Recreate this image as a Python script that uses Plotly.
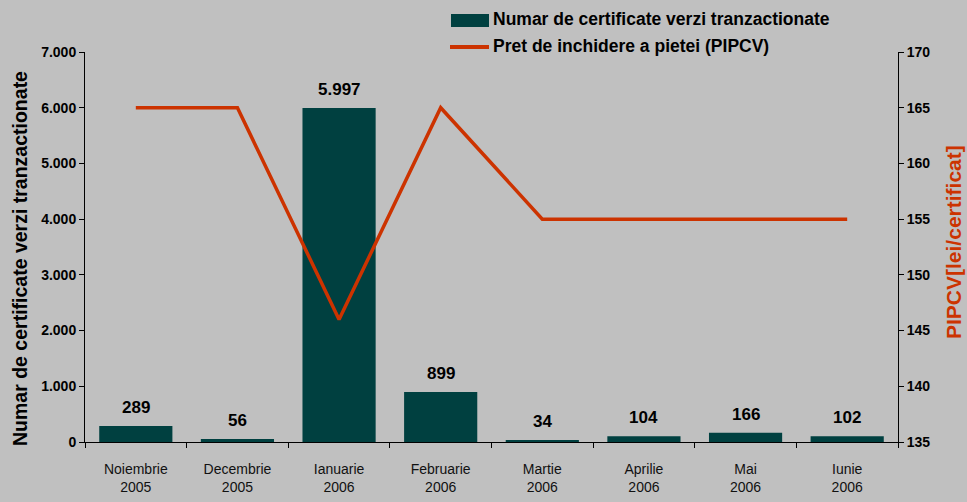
import plotly.graph_objects as go

categories = ["Noiembrie<br>2005", "Decembrie<br>2005", "Ianuarie<br>2006", "Februarie<br>2006",
              "Martie<br>2006", "Aprilie<br>2006", "Mai<br>2006", "Iunie<br>2006"]
certificates = [289, 56, 5997, 899, 34, 104, 166, 102]
price = [165, 165, 146, 165, 155, 155, 155, 155]

legend_bar = "Numar de certificate verzi tranzactionate"
legend_line = "Pret de inchidere a pietei (PIPCV)"
left_title = "Numar de certificate verzi tranzactionate"
right_title = "PIPCV[lei/certificat]"

BG = "#c0c0c0"
BAR = "#004040"
LINE = "#cc3300"
FONT = "Liberation Sans, Arial, sans-serif"

fig = go.Figure()
fig.add_trace(go.Bar(
    x=categories, y=certificates, name=legend_bar,
    marker=dict(color=BAR, line=dict(width=0)), yaxis="y", showlegend=False,
))
fig.add_trace(go.Scatter(
    x=categories, y=price, name=legend_line,
    mode="lines", line=dict(color=LINE, width=3.5), yaxis="y2", showlegend=False,
))

# value labels above bars
for c, v in zip(categories, certificates):
    fig.add_annotation(x=c, y=v, xref="x", yref="y", text="<b>%s</b>" % f"{v:,}".replace(",", "."),
                       showarrow=False, yanchor="bottom", yshift=7,
                       font=dict(family=FONT, size=17, color="#000"))

# custom legend
fig.add_shape(type="rect", xref="paper", yref="paper",
              x0=(451 - 85) / 813, x1=(489 - 85) / 813,
              y0=(442 - 27) / 390, y1=(442 - 14) / 390,
              fillcolor=BAR, line=dict(width=0))
fig.add_shape(type="line", xref="paper", yref="paper",
              x0=(450 - 85) / 813, x1=(489 - 85) / 813,
              y0=(442 - 47) / 390, y1=(442 - 47) / 390,
              line=dict(color=LINE, width=4))
fig.add_annotation(xref="paper", yref="paper", x=(491 - 85) / 813, y=(442 - 19) / 390,
                   xanchor="left", yanchor="middle", showarrow=False,
                   text="<b>%s</b>" % legend_bar,
                   font=dict(family=FONT, size=17.5, color="#000"))
fig.add_annotation(xref="paper", yref="paper", x=(491 - 85) / 813, y=(442 - 46) / 390,
                   xanchor="left", yanchor="middle", showarrow=False,
                   text="<b>%s</b>" % legend_line,
                   font=dict(family=FONT, size=17.5, color="#000"))

# axis titles
fig.add_annotation(xref="paper", yref="paper", x=(20 - 85) / 813, y=(442 - 259) / 390,
                   xanchor="center", yanchor="middle", showarrow=False, textangle=-90,
                   text="<b>%s</b>" % left_title,
                   font=dict(family=FONT, size=19.5, color="#000"))
fig.add_annotation(xref="paper", yref="paper", x=(953 - 85) / 813, y=(442 - 242) / 390,
                   xanchor="center", yanchor="middle", showarrow=False, textangle=-90,
                   text="<b>%s</b>" % right_title,
                   font=dict(family=FONT, size=21, color=LINE))

fig.update_layout(
    width=967, height=502,
    paper_bgcolor=BG, plot_bgcolor=BG,
    margin=dict(l=85, r=69, t=52, b=60, autoexpand=False),
    separators=",.",
    bargap=0.28,
    showlegend=False,
    xaxis=dict(
        showline=True, linecolor="#000", linewidth=1,
        ticks="outside", ticklen=5, tickcolor="#000", tickson="boundaries",
        tickfont=dict(family=FONT, size=14, color="#111"),
        ticklabelstandoff=14,
        showgrid=False, zeroline=False,
    ),
    yaxis=dict(
        range=[0, 7000], dtick=1000, tickformat=",d",
        showline=True, linecolor="#000", linewidth=1,
        ticks="outside", ticklen=5, tickcolor="#000",
        tickfont=dict(family=FONT, size=14, color="#000", weight="bold"),
        showgrid=False, zeroline=False,
    ),
    yaxis2=dict(
        range=[135, 170], dtick=5, overlaying="y", side="right",
        showline=True, linecolor="#000", linewidth=1,
        ticks="outside", ticklen=5, tickcolor="#000",
        tickfont=dict(family=FONT, size=14, color="#000", weight="bold"),
        showgrid=False, zeroline=False,
    ),
)

fig.write_html(
    "out.html",
    config={"displayModeBar": False},
    post_script="document.body.style.margin='0';document.body.style.overflow='hidden';",
)
